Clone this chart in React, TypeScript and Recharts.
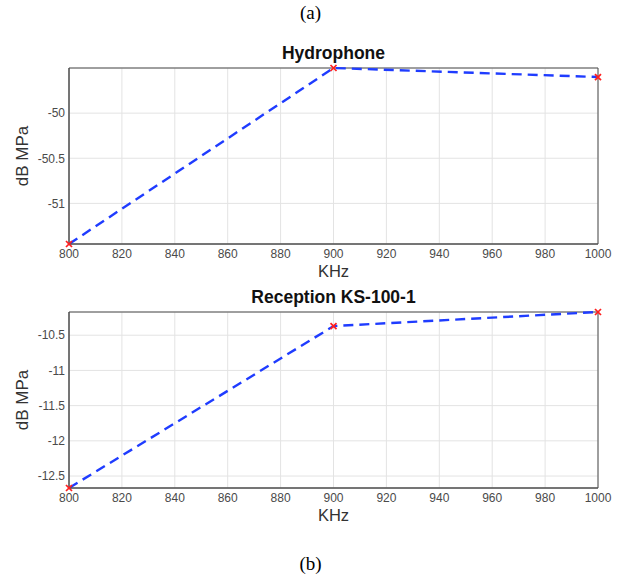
import React from 'react';
import { LineChart, Line, XAxis, YAxis, CartesianGrid, ReferenceArea } from 'recharts';

const frequencies = [800, 900, 1000];
const hydrophoneDb = [-51.45, -49.5, -49.6];
const receptionDb = [-12.67, -10.37, -10.17];

const freqTicks = [800, 820, 840, 860, 880, 900, 920, 940, 960, 980, 1000];
const hydrophoneTicks = [-51, -50.5, -50];
const receptionTicks = [-12.5, -12, -11.5, -11, -10.5];

const FONT = '"Liberation Sans", Arial, Helvetica, sans-serif';
const LINE_BLUE = '#1f3cff';
const FRAME = '#4d4d4d';
const TICK_TEXT = '#4a4a4a';

const buildRows = (values: number[]) =>
  frequencies.map((f, i) => ({ khz: f, db: values[i] }));

const CrossDot = (props: any) => {
  const { cx, cy, index } = props;
  if (cx == null || cy == null) return null;
  const s = 3;
  return (
    <g key={`x-${index}`}>
      <line x1={cx - s} y1={cy - s} x2={cx + s} y2={cy + s} stroke="#ff2020" strokeWidth={1.7} />
      <line x1={cx - s} y1={cy + s} x2={cx + s} y2={cy - s} stroke="#ff2020" strokeWidth={1.7} />
    </g>
  );
};

interface PanelProps {
  title: string;
  values: number[];
  yTicks: number[];
  top: number;
}

const CHART_W = 621;
const CHART_H = 240;
const MARGIN = { top: 28, right: 23, bottom: 6, left: 19 };

const Panel: React.FC<PanelProps> = ({ title, values, yTicks, top }) => {
  const data = buildRows(values);
  const plotTop = MARGIN.top;
  const plotBottom = CHART_H - MARGIN.bottom - 30;
  const plotMid = (plotTop + plotBottom) / 2;
  const plotCx = 69 + (CHART_W - 69 - MARGIN.right) / 2;

  return (
    <div style={{ position: 'absolute', left: 0, top, width: CHART_W, height: CHART_H }}>
      <LineChart width={CHART_W} height={CHART_H} data={data} margin={MARGIN}>
        <CartesianGrid stroke="#e3e3e3" strokeWidth={1} />
        <XAxis
          dataKey="khz"
          type="number"
          domain={[800, 1000]}
          ticks={freqTicks}
          interval={0}
          height={30}
          tickSize={0}
          tickMargin={5}
          axisLine={{ stroke: FRAME }}
          tick={{ fill: TICK_TEXT, fontSize: 12, fontFamily: FONT }}
        />
        <YAxis
          type="number"
          domain={['dataMin', 'dataMax']}
          ticks={yTicks}
          interval={0}
          width={50}
          tickSize={0}
          tickMargin={4}
          axisLine={{ stroke: FRAME }}
          tick={{ fill: TICK_TEXT, fontSize: 12, fontFamily: FONT }}
        />
        <ReferenceArea
          x1={800}
          x2={1000}
          fill="none"
          stroke={FRAME}
          strokeWidth={1}
          ifOverflow="visible"
        />
        <Line
          dataKey="db"
          type="linear"
          stroke={LINE_BLUE}
          strokeWidth={2.4}
          strokeDasharray="10 6"
          dot={CrossDot}
          activeDot={false}
          isAnimationActive={false}
        />
        <text
          x={plotCx}
          y={13}
          textAnchor="middle"
          dominantBaseline="central"
          fontFamily={FONT}
          fontWeight="bold"
          fontSize={17.5}
          fill="#111"
        >
          {title}
        </text>
        <text
          x={plotCx}
          y={plotBottom + 27}
          textAnchor="middle"
          dominantBaseline="central"
          fontFamily={FONT}
          fontSize={16.5}
          fill="#333"
        >
          KHz
        </text>
        <text
          x={22}
          y={plotMid}
          transform={`rotate(-90, 22, ${plotMid})`}
          textAnchor="middle"
          dominantBaseline="central"
          fontFamily={FONT}
          fontSize={17}
          fill="#333"
        >
          dB MPa
        </text>
      </LineChart>
    </div>
  );
};

export default function App() {
  return (
    <div
      style={{
        position: 'absolute',
        left: 0,
        top: 0,
        width: 621,
        height: 582,
        background: '#ffffff',
        overflow: 'hidden',
      }}
    >
      <div
        style={{
          position: 'absolute',
          top: 2,
          left: 0,
          width: 621,
          textAlign: 'center',
          fontFamily: '"Liberation Serif", "Times New Roman", serif',
          fontSize: 19,
        }}
      >
        (a)
      </div>
      <Panel title="Hydrophone" values={hydrophoneDb} yTicks={hydrophoneTicks} top={40} />
      <Panel title="Reception KS-100-1" values={receptionDb} yTicks={receptionTicks} top={284} />
      <div
        style={{
          position: 'absolute',
          top: 553,
          left: 0,
          width: 621,
          textAlign: 'center',
          fontFamily: '"Liberation Serif", "Times New Roman", serif',
          fontSize: 19,
        }}
      >
        (b)
      </div>
    </div>
  );
}
